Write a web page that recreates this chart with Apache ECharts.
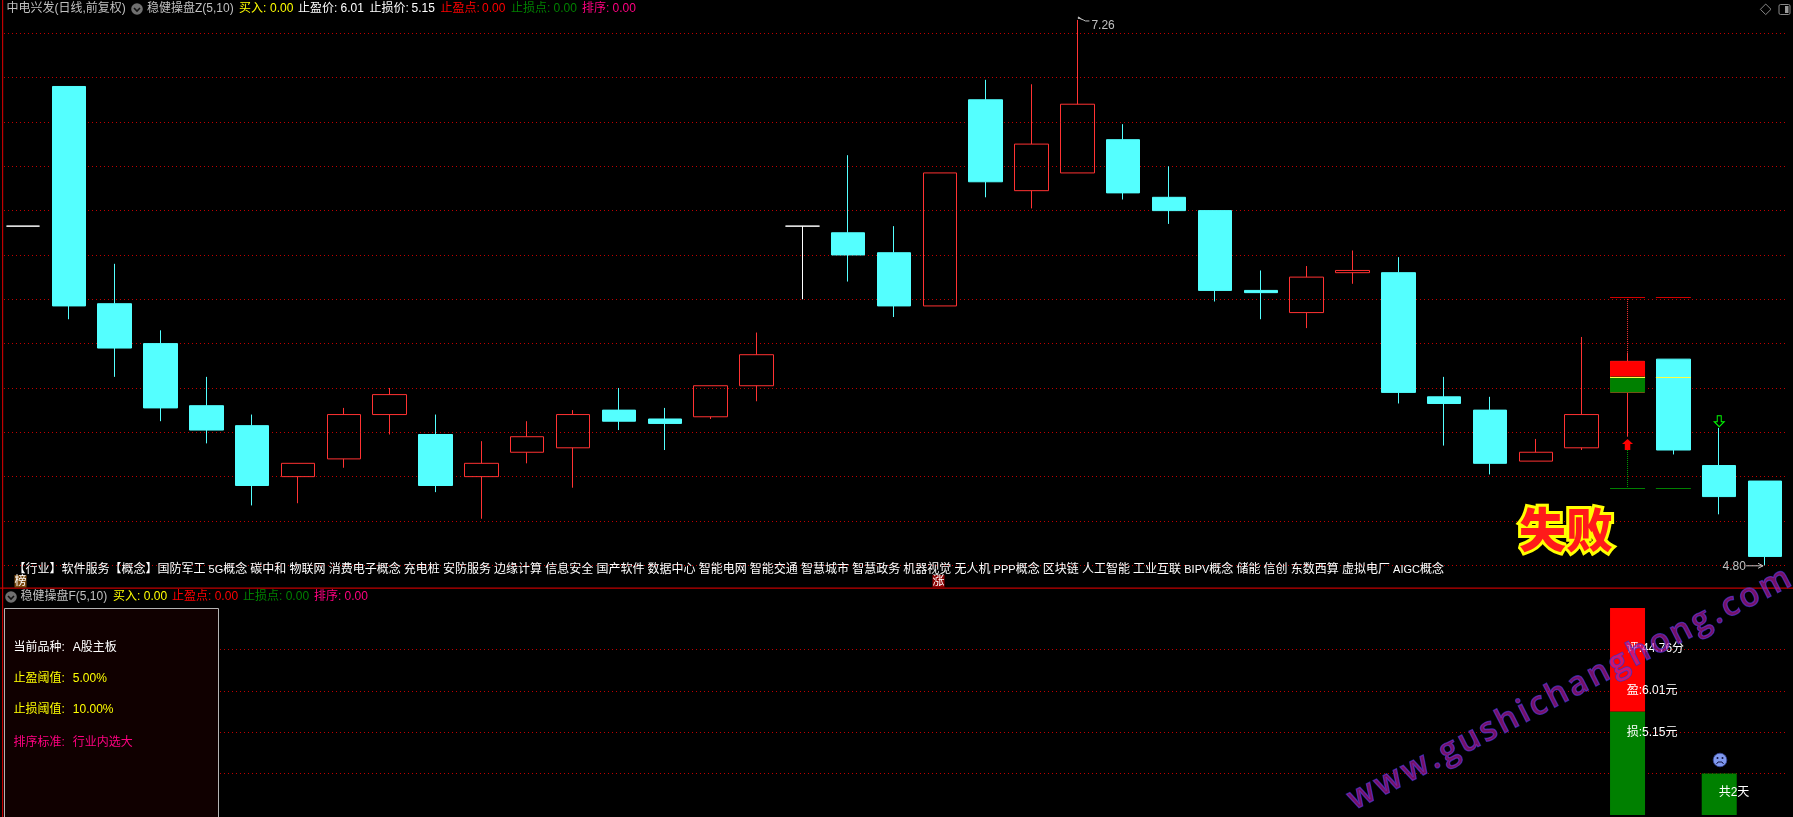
<!DOCTYPE html>
<html>
<head>
<meta charset="utf-8">
<style>html,body{margin:0;padding:0;background:#000}#c{width:1793px;height:817px}</style>
<script src="https://cdn.jsdelivr.net/npm/echarts@6/dist/echarts.min.js"></script>
</head>
<body>
<div id="c"></div>
<script>
// open, close, low, high
const candles = [
[6.33,6.33,6.33,6.33],[6.96,5.97,5.91,6.96],[5.98,5.78,5.65,6.16],[5.80,5.51,5.45,5.86],
[5.52,5.41,5.35,5.65],[5.43,5.16,5.07,5.48],[5.20,5.26,5.08,5.26],[5.28,5.48,5.24,5.51],
[5.48,5.57,5.39,5.60],[5.39,5.16,5.13,5.48],[5.20,5.26,5.01,5.36],[5.31,5.38,5.26,5.45],
[5.33,5.48,5.15,5.50],[5.50,5.45,5.41,5.60],[5.46,5.44,5.32,5.51],[5.47,5.61,5.46,5.61],
[5.61,5.75,5.54,5.85],[6.33,6.33,6.00,6.33],[6.30,6.20,6.08,6.65],[6.21,5.97,5.92,6.33],
[5.97,6.57,5.97,6.57],[6.90,6.53,6.46,6.99],[6.49,6.70,6.41,6.97],[6.57,6.88,6.57,7.26],
[6.72,6.48,6.45,6.79],[6.46,6.40,6.34,6.60],[6.40,6.04,5.99,6.40],[6.04,6.03,5.91,6.13],
[5.94,6.10,5.87,6.15],[6.12,6.13,6.07,6.22],[6.12,5.58,5.53,6.19],[5.56,5.53,5.34,5.65],
[5.50,5.26,5.21,5.56],[5.27,5.31,5.27,5.37],[5.33,5.48,5.32,5.83],[5.58,5.72,5.38,5.76],
[5.73,5.32,5.30,5.73],[5.25,5.11,5.03,5.42],[5.18,4.84,4.80,5.18]
];
const categories = candles.map((_, i) => 'D' + (i + 1));
const stopProfit = 6.01, stopLoss = 5.15, midPrice = 5.65;
const signalDays = [35, 36];
const boxDay = 35, boxTop = 5.72, boxBottom = 5.58, wickTop = 5.76, arrowTail = 5.32;
const buyArrow = [[35, 5.345]];
const sellArrow = [[37, 5.45]];
const extremes = [[23, 7.26, 'up'], [38, 4.80, 'down']];
const subGreen = candles.map((_, i) => i === 35 ? 5 : i === 37 ? 2 : null);
const subRed = candles.map((_, i) => i === 35 ? 5 : null);
const conceptTokens = ['【行业】软件服务【概念】国防军工','5G概念','碳中和','物联网','消费电子概念','充电桩','安防服务','边缘计算','信息安全','国产软件','数据中心','智能电网','智能交通','智慧城市','智慧政务','机器视觉','无人机','PPP概念','区块链','人工智能','工业互联','BIPV概念','储能','信创','东数西算','虚拟电厂','AIGC概念'];
const header1 = [['中电兴发(日线,前复权)',6.5,'#c0c0c0'],['稳健操盘Z(5,10)',147,'#c0c0c0'],['买入:',239,'#ffff00'],['0.00',270,'#ffff00'],['止盈价:',298,'#ffffff'],['6.01',340.6,'#ffffff'],['止损价:',369.6,'#ffffff'],['5.15',411.6,'#ffffff'],['止盈点:',440.6,'#ff0000'],['0.00',482,'#ff0000'],['止损点:',511,'#008000'],['0.00',553.6,'#008000'],['排序:',582,'#ff0080'],['0.00',612.5,'#ff0080']];
const header2 = [['稳健操盘F(5,10)',20.5,'#c0c0c0'],['买入:',113,'#ffff00'],['0.00',143.8,'#ffff00'],['止盈点:',172,'#ff0000'],['0.00',214.7,'#ff0000'],['止损点:',243,'#008000'],['0.00',285.7,'#008000'],['排序:',314,'#ff0080'],['0.00',344.6,'#ff0080']];
const infoLines = [['当前品种:','A股主板',647.7,'#ffffff'],['止盈阈值:','5.00%',678.7,'#ffff00'],['止损阈值:','10.00%',710,'#ffff00'],['排序标准:','行业内选大',743,'#ff0080']];
const subLabels = [['评:44.76分',1626.7,649],['盈:6.01元',1626.7,690.3],['损:5.15元',1626.7,732.3],['共2天',1718.7,793]];
const watermark = 'www.gushichanghong.com';

const FONT = '"Liberation Sans","Noto Sans CJK SC",sans-serif';
const CJK = '"Noto Sans CJK SC",sans-serif';
const txt = (text, x, y, fill, size, extra) => ({type:'text', x, y, z:50, silent:true,
  style:Object.assign({text, fill, font:`${size||12}px ${FONT}`, textVerticalAlign:'middle', textAlign:'left'}, extra||{})});
const mctx = document.createElement('canvas').getContext('2d');
const measure = (t, font) => { mctx.font = font; return mctx.measureText(t).width; };

const conceptEls = [];
(function(){ let x = 13.4;
  conceptTokens.forEach(t => {
    (t.match(/[\x00-\xff]+|[^\x00-\xff]+/g) || []).forEach(seg => {
      if (seg.charCodeAt(0) > 255) {
        conceptEls.push(txt(seg, x, 570, '#ffffff'));
        x += seg.length * 12;
      } else {
        conceptEls.push(txt(seg, x, 570, '#ffffff', 11));
        x += measure(seg, `11px ${FONT}`);
      }
    });
    x += 3.15;
  });
})();

const wmEls = [];
(function(){
  const font = `600 33px "Open Sans",sans-serif`, rot = 0.475, gap = 3.1;
  let adv = 0;
  for (const ch of watermark) {
    wmEls.push({type:'text', z:70, silent:true, x:1350 + adv*Math.cos(rot), y:802 - adv*Math.sin(rot), rotation:rot,
      style:{text:ch, font, textAlign:'left', textVerticalAlign:'middle', fill:'rgba(190,30,170,0.6)', stroke:'rgba(50,50,190,0.85)', lineWidth:1.3}});
    adv += measure(ch, font) + gap;
  }
})();

const badge = (ch, cx, bg) => [
  {type:'rect', z:49, silent:true, shape:{x:cx-6, y:575, width:12, height:12.5}, style:{fill:bg}},
  txt(ch, cx, 581.2, '#ffffff', 12, {textAlign:'center'})
];
const dropIcon = (cx, cy) => [
  {type:'circle', z:50, silent:true, shape:{cx, cy, r:5.8}, style:{fill:'#707070'}},
  {type:'polyline', z:51, silent:true, shape:{points:[[cx-3,cy-1],[cx,cy+2],[cx+3,cy-1]]}, style:{stroke:'#111', lineWidth:1.6, fill:'none'}}
];
const graphics = [
  {type:'rect', z:40, silent:true, shape:{x:0,y:0,width:2,height:817}, style:{fill:'#000'}},
  {type:'rect', z:41, silent:true, shape:{x:2,y:0,width:1.2,height:817}, style:{fill:'#c00000'}},
  {type:'rect', z:41, silent:true, shape:{x:0,y:587.6,width:1793,height:1.2}, style:{fill:'#c00000'}},
  {type:'rect', z:42, silent:true, shape:{x:4.5,y:608.5,width:214,height:215}, style:{fill:'#100000', stroke:'#b4b4b4', lineWidth:1}},
  ...dropIcon(137,9), ...dropIcon(11,597),
  ...header1.map(h => txt(h[0], h[1], 9, h[2])),
  ...header2.map(h => txt(h[0], h[1], 597, h[2])),
  ...conceptEls,
  ...badge('榜', 20.5, '#7a4a10'), ...badge('涨', 938.5, '#8c0000'),
  ...infoLines.flatMap(l => [txt(l[0], 13.4, l[2], l[3]), txt(l[1], 72.8, l[2], l[3])]),
  ...subLabels.map(l => txt(l[0], l[1], l[2], '#ffffff')),
  {type:'polygon', z:50, silent:true, shape:{points:[[1765.7,4],[1771,9.3],[1765.7,14.6],[1760.4,9.3]]}, style:{fill:'none', stroke:'#888', lineWidth:1}},
  {type:'rect', z:50, silent:true, shape:{x:1779,y:4.5,width:11,height:10,r:1.5}, style:{fill:'none', stroke:'#888', lineWidth:1}},
  {type:'rect', z:50, silent:true, shape:{x:1785,y:6,width:3.5,height:7}, style:{fill:'#999'}},
  {type:'circle', z:50, silent:true, shape:{cx:1720,cy:760,r:6.8}, style:{fill:'#8099ee', stroke:'#3a4aa0', lineWidth:0.8}},
  {type:'circle', z:51, silent:true, shape:{cx:1717.5,cy:758,r:1}, style:{fill:'#101040'}},
  {type:'circle', z:51, silent:true, shape:{cx:1722.5,cy:758,r:1}, style:{fill:'#101040'}},
  {type:'polyline', z:51, silent:true, shape:{points:[[1716.5,764],[1718,762],[1722,762],[1723.5,764]]}, style:{stroke:'#101040', lineWidth:1, fill:'none'}},
  {type:'text', z:60, silent:true, x:1566, y:529, style:{text:'失败', font:`900 47px ${CJK}`, textAlign:'center', textVerticalAlign:'middle', fill:'#ffff00', stroke:'#ffff00', lineWidth:6, lineJoin:'round', shadowBlur:6, shadowColor:'rgba(255,255,255,0.5)'}},
  {type:'text', z:61, silent:true, x:1566, y:529, style:{text:'失败', font:`900 47px ${CJK}`, textAlign:'center', textVerticalAlign:'middle', fill:'#ff1a1a'}},
  ...wmEls
];

const bandBox = (api, day, p1, p2) => {
  const a = api.coord([day, p1]), b = api.coord([day, p2]);
  return {x:a[0]-17.5, y:a[1], width:35, height:b[1]-a[1]};
};
const hLine = (api, day, p, stroke, z2) => {
  const a = api.coord([day, p]);
  return {type:'line', z2:z2||5, shape:{x1:a[0]-17.5, y1:Math.round(a[1])+0.5, x2:a[0]+17.5, y2:Math.round(a[1])+0.5}, style:{stroke, lineWidth:1}};
};
const dotV = (api, day, p1, p2, stroke) => {
  const a = api.coord([day, p1]), b = api.coord([day, p2]);
  return {type:'line', z2:3, shape:{x1:a[0], y1:a[1], x2:b[0], y2:b[1]}, style:{stroke, lineWidth:1, lineDash:[1,1]}};
};

const option = {
  backgroundColor:'#000',
  animation:false,
  graphic:graphics,
  grid:[
    {left:-3.5, width:1791.5, top:11.1, height:554.2},
    {left:-3.5, width:1791.5, top:608, height:207}
  ],
  xAxis:[
    {type:'category', gridIndex:0, data:categories, show:false, boundaryGap:true},
    {type:'category', gridIndex:1, data:categories, show:false, boundaryGap:true}
  ],
  yAxis:[
    {type:'value', gridIndex:0, min:4.8, max:7.3, interval:0.2, axisLabel:{show:false}, axisLine:{show:false}, axisTick:{show:false},
     splitLine:{show:true, showMaxLine:false, lineStyle:{color:'#c00000', width:1, type:[1,3]}}},
    {type:'value', gridIndex:1, min:0, max:10, interval:2, axisLabel:{show:false}, axisLine:{show:false}, axisTick:{show:false},
     splitLine:{show:true, showMinLine:false, showMaxLine:false, lineStyle:{color:'#c00000', width:1, type:[1,3]}}}
  ],
  series:[
    {type:'candlestick', xAxisIndex:0, yAxisIndex:0, data:candles, barWidth:34, clip:false, z:3,
     itemStyle:{color:'rgba(0,0,0,0)', color0:'#54ffff', borderColor:'#ff3232', borderColor0:'#54ffff', borderColorDoji:'#ffffff', borderWidth:1}},
    {type:'custom', xAxisIndex:0, yAxisIndex:0, z:4, clip:false, silent:true, data:[[boxDay]],
     encode:{x:0}, renderItem(params, api){
       const kids = [
         {type:'rect', z2:1, shape:bandBox(api, boxDay, boxTop, midPrice), style:{fill:'#ff0000'}},
         {type:'rect', z2:1, shape:bandBox(api, boxDay, midPrice, boxBottom), style:{fill:'#008000'}},
         dotV(api, boxDay, stopProfit, wickTop, '#ff3232'),
         dotV(api, boxDay, arrowTail, stopLoss, '#00a000')
       ];
       signalDays.forEach(d => {
         kids.push(hLine(api, d, stopProfit, '#d00000'));
         kids.push(hLine(api, d, stopLoss, '#008000'));
         kids.push(hLine(api, d, midPrice, '#ffff40'));
       });
       return {type:'group', children:kids};
     }},
    {type:'custom', xAxisIndex:0, yAxisIndex:0, z:6, clip:false, silent:true, data:extremes,
     encode:{x:0,y:1}, renderItem(params, api){
       const p = api.coord([api.value(0), api.value(1)]);
       const isUp = extremes[params.dataIndex][2] === 'up';
       const c = '#c0c0c0';
       if (isUp) return {type:'group', children:[
         {type:'polyline', shape:{points:[[p[0]+1,p[1]-1],[p[0]+1,p[1]-3],[p[0]+4,p[1]-1]]}, style:{stroke:c, fill:'none', lineWidth:1}},
         {type:'polyline', shape:{points:[[p[0]+1,p[1]-2],[p[0]+6,p[1]],[p[0]+8,p[1]+1],[p[0]+12,p[1]+1]]}, style:{stroke:c, fill:'none', lineWidth:1}},
         {type:'text', x:p[0]+14, y:p[1]+5.5, style:{text:'7.26', fill:c, font:`12px ${FONT}`, textVerticalAlign:'middle'}}
       ]};
       return {type:'group', children:[
         {type:'text', x:p[0]-42.5, y:p[1]+1, style:{text:'4.80', fill:c, font:`12px ${FONT}`, textVerticalAlign:'middle'}},
         {type:'polyline', shape:{points:[[p[0]-19,p[1]+0.5],[p[0]-2,p[1]+0.5]]}, style:{stroke:c, fill:'none', lineWidth:1}},
         {type:'polyline', shape:{points:[[p[0]-7,p[1]-2],[p[0]-2,p[1]+0.5],[p[0]-7,p[1]+3]]}, style:{stroke:c, fill:'none', lineWidth:1}}
       ]};
     }},
    {type:'scatter', xAxisIndex:0, yAxisIndex:0, z:7, silent:true, data:buyArrow, symbol:'path://M5,0 L10,5 L7.5,5 L7.5,11 L2.5,11 L2.5,5 L0,5 Z', symbolSize:[11,11], itemStyle:{color:'#ff0000', opacity:1}},
    {type:'scatter', xAxisIndex:0, yAxisIndex:0, z:7, silent:true, data:sellArrow, symbol:'path://M3,0 L7,0 L7,6 L10,6 L5,11 L0,6 L3,6 Z', symbolSize:[10,11], itemStyle:{color:'rgba(0,0,0,0)', borderColor:'#00ff00', borderWidth:1, opacity:1}},
    {type:'bar', xAxisIndex:1, yAxisIndex:1, stack:'s', data:subGreen, barWidth:35, z:3, silent:true, itemStyle:{color:'#008000'}},
    {type:'bar', xAxisIndex:1, yAxisIndex:1, stack:'s', data:subRed, barWidth:35, z:3, silent:true, itemStyle:{color:'#ff0000'}}
  ]
};
const chart = echarts.init(document.getElementById('c'), null, {renderer:'canvas'});
chart.setOption(option);
</script>
</body>
</html>
